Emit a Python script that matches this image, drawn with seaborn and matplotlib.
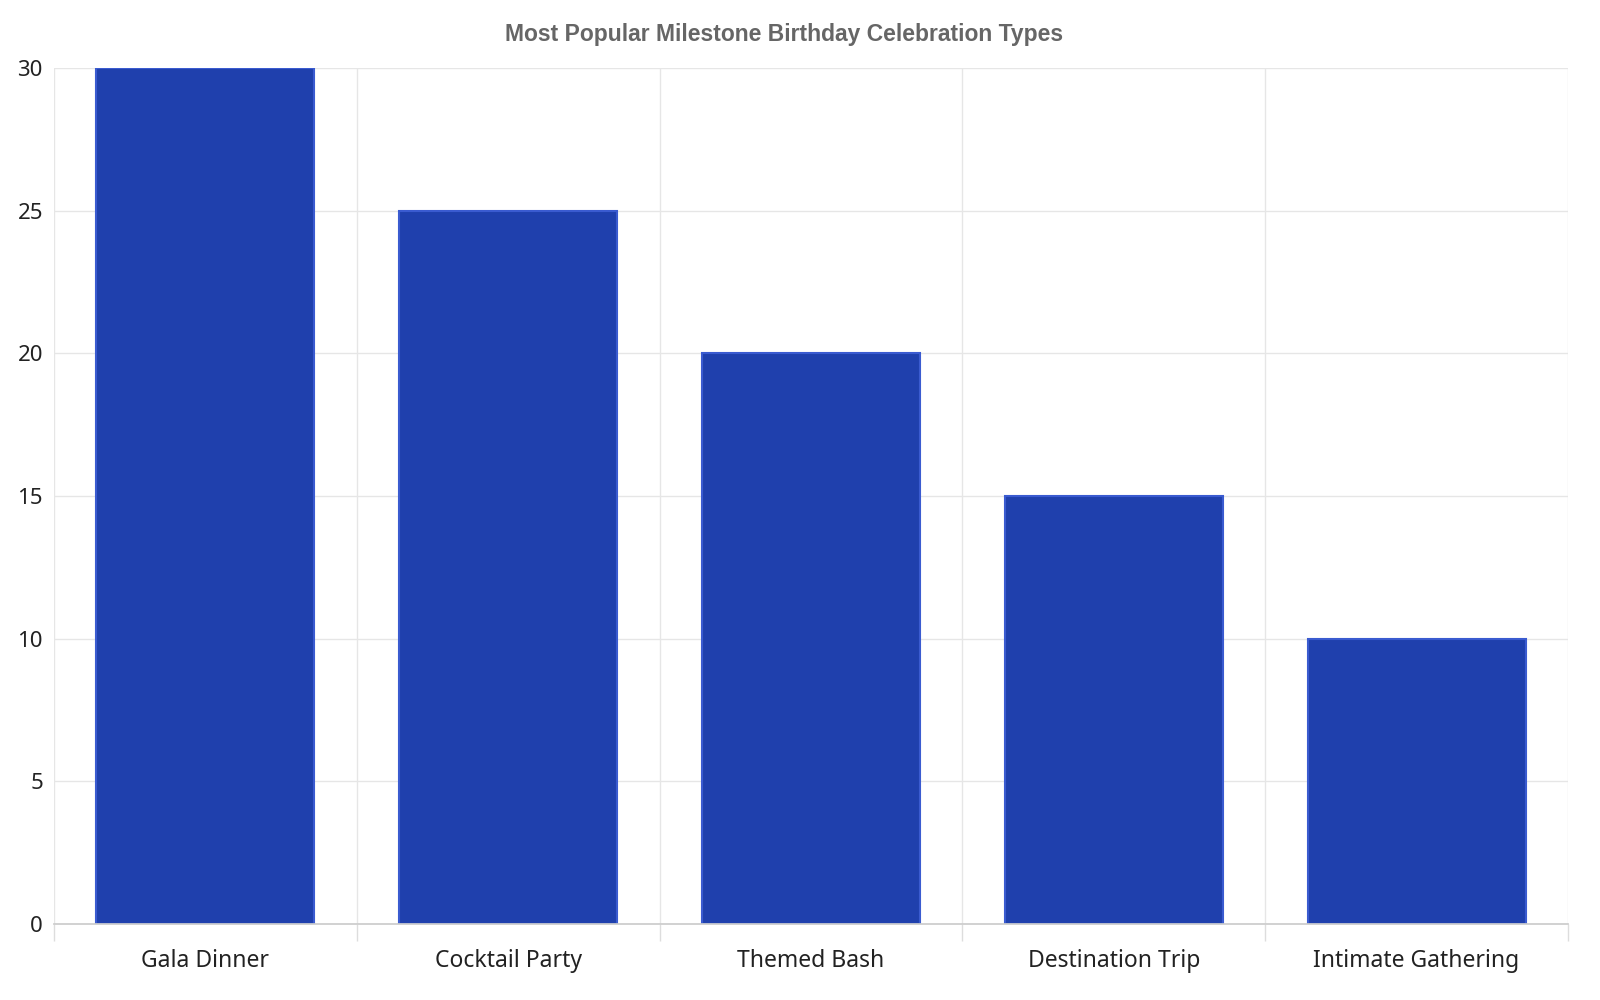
import matplotlib
matplotlib.use("Agg")
import matplotlib.pyplot as plt
import seaborn as sns
import pandas as pd

categories = ["Gala Dinner", "Cocktail Party", "Themed Bash", "Destination Trip", "Intimate Gathering"]
values = [30, 25, 20, 15, 10]
title = "Most Popular Milestone Birthday Celebration Types"

sns.set_theme(style="white")
plt.rcParams['font.family'] = ['Noto Sans', 'DejaVu Sans']
plt.rcParams['xtick.bottom'] = True

fig = plt.figure(figsize=(16, 10), dpi=100)
ax = fig.add_axes([0.03375, 0.076, 0.98 - 0.03375, 0.856])
df = pd.DataFrame({"cat": categories, "val": values})
sns.barplot(data=df, x="cat", y="val", ax=ax, color="#1f40ad", saturation=1,
            width=0.72, edgecolor="#3a5bd0", linewidth=1.5)
ax.set_xlim(-0.5, 4.5)
ax.set_ylim(0, 30)
ax.set_yticks([0, 5, 10, 15, 20, 25, 30])
ax.set_xticks([i - 0.5 for i in range(6)], minor=True)
ax.grid(True, axis="y", color="#e6e6e6", linewidth=1)
ax.grid(True, axis="x", which="minor", color="#e6e6e6", linewidth=1)
ax.set_axisbelow(True)
ax.tick_params(axis="x", which="major", bottom=False, length=0, pad=18, labelsize=16.5, labelcolor="#222222")
ax.tick_params(axis="x", which="minor", bottom=True, length=12, color="#dddddd", width=1)
ax.tick_params(axis="y", length=0, labelsize=16, labelcolor="#222222", pad=8)
for s in ["top", "right", "left"]:
    ax.spines[s].set_visible(False)
ax.spines["bottom"].set_color("#cccccc")
ax.set_xlabel("")
ax.set_ylabel("")
fig.text(0.49, 0.966, title, ha="center", va="center", fontsize=16.5, fontweight="bold",
         color="#666666", family=["Liberation Sans", "DejaVu Sans"])
fig.savefig("out.png", dpi=100)
